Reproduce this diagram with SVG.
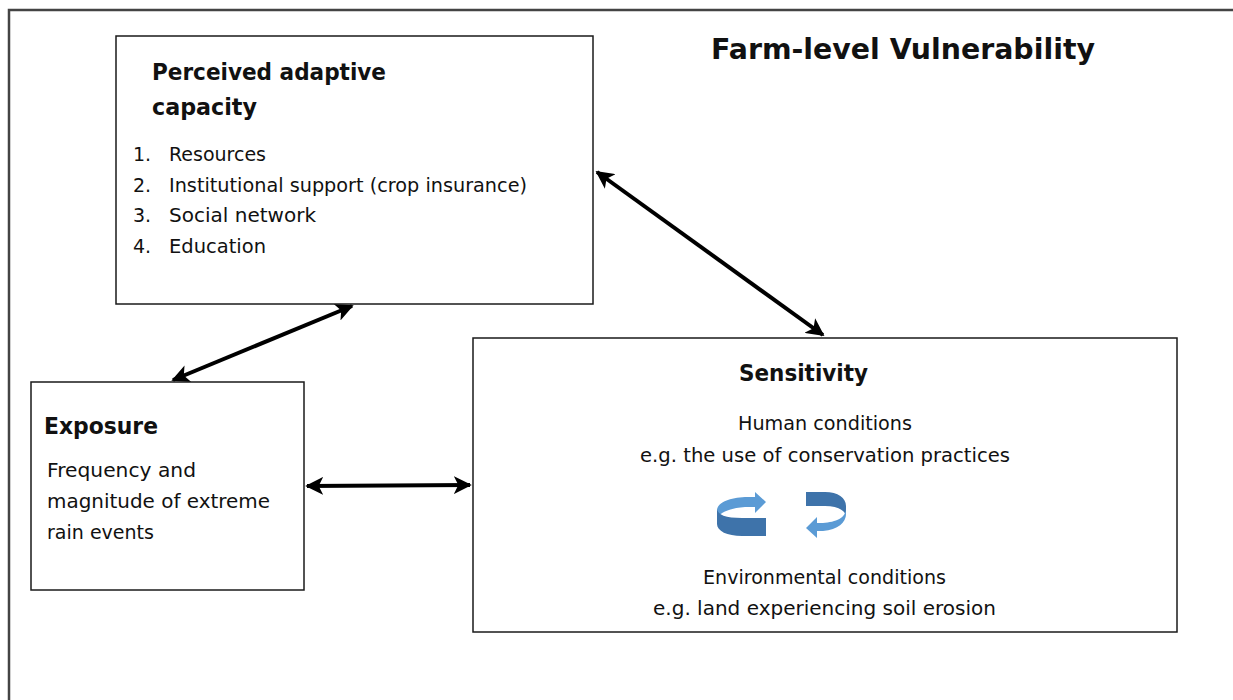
<svg xmlns="http://www.w3.org/2000/svg" width="1233" height="700" viewBox="0 0 1233 700">
<defs>
<style>
.box{fill:#fff;stroke:#1a1a1a;stroke-width:1.5}
.t{font-family:"DejaVu Sans","Liberation Sans",sans-serif;font-size:19px;fill:#111}
.b{font-family:"DejaVu Sans","Liberation Sans",sans-serif;font-size:23px;font-weight:bold;fill:#111}
.c{stroke:#000;stroke-width:4;fill:none;marker-start:url(#ah);marker-end:url(#ah)}
.front{fill:#3e73aa}
.back{fill:#5b9bd5}
</style>
<marker id="ah" viewBox="0 0 10 10" refX="9" refY="5" markerWidth="4.5" markerHeight="4.5" orient="auto-start-reverse" markerUnits="strokeWidth">
<path d="M0,0 L10,5 L0,10 L2.5,5 Z" fill="#000"/>
</marker>
</defs>
<rect width="1233" height="700" fill="#fff"/>
<path d="M9,700 V10 H1233" fill="none" stroke="#444" stroke-width="2.5"/>
<text x="711" y="59" class="b" style="font-size:28px" textLength="384" lengthAdjust="spacingAndGlyphs">Farm-level Vulnerability</text>
<g id="connectors">
<line class="c" x1="597" y1="172" x2="823" y2="335"/>
<line class="c" x1="352" y1="306" x2="173" y2="380"/>
<line class="c" x1="307" y1="486" x2="470" y2="485"/>
</g>
<g id="adaptive">
<rect class="box" x="116" y="36" width="477" height="268"/>
<text x="152" y="80" class="b" textLength="234" lengthAdjust="spacingAndGlyphs">Perceived adaptive</text>
<text x="152" y="115" class="b" textLength="105" lengthAdjust="spacingAndGlyphs">capacity</text>
<text x="133" y="161" class="t">1.</text><text x="169" y="161" class="t" textLength="97" lengthAdjust="spacingAndGlyphs">Resources</text>
<text x="133" y="192" class="t">2.</text><text x="169" y="192" class="t" textLength="358" lengthAdjust="spacingAndGlyphs">Institutional support (crop insurance)</text>
<text x="133" y="222" class="t">3.</text><text x="169" y="222" class="t" textLength="147" lengthAdjust="spacingAndGlyphs">Social network</text>
<text x="133" y="253" class="t">4.</text><text x="169" y="253" class="t" textLength="97" lengthAdjust="spacingAndGlyphs">Education</text>
</g>
<g id="exposure">
<rect class="box" x="31" y="382" width="273" height="208"/>
<text x="44" y="434" class="b" textLength="114" lengthAdjust="spacingAndGlyphs">Exposure</text>
<text x="47" y="477" class="t" textLength="149" lengthAdjust="spacingAndGlyphs">Frequency and</text>
<text x="47" y="508" class="t" textLength="223" lengthAdjust="spacingAndGlyphs">magnitude of extreme</text>
<text x="47" y="539" class="t" textLength="107" lengthAdjust="spacingAndGlyphs">rain events</text>
</g>
<g id="sensitivity">
<rect class="box" x="473" y="338" width="704" height="294"/>
<text x="739" y="381" class="b" textLength="129" lengthAdjust="spacingAndGlyphs">Sensitivity</text>
<text x="738" y="430" class="t" textLength="174" lengthAdjust="spacingAndGlyphs">Human conditions</text>
<text x="640" y="462" class="t" textLength="370" lengthAdjust="spacingAndGlyphs">e.g. the use of conservation practices</text>
<text x="703" y="584" class="t" textLength="243" lengthAdjust="spacingAndGlyphs">Environmental conditions</text>
<text x="653" y="615" class="t" textLength="343" lengthAdjust="spacingAndGlyphs">e.g. land experiencing soil erosion</text>
<g id="cycle-left">
<path class="back" d="M717,511 C717,502 730,498 745,497 L755,497 L755,492 L766,502 L755,513 L755,507 L745,507 C732,508 722,511 717,518 Z"/>
<path class="front" d="M766,518 L742,518 C726,518 717,515 717,508 L717,524 C717,531 727,536 742,536 L766,536 Z"/>
</g>
<g id="cycle-right">
<path class="front" d="M806,492 L825,492 C838,492 846,498 846,506 L846,517 C846,511 838,506 825,506 L806,506 Z"/>
<path class="back" d="M846,508 C846,518 836,522 823,523 L817,523 L817,517 L806,528 L817,538 L817,531 L823,531 C838,530 846,522 846,514 Z"/>
</g>
</g>
</svg>
